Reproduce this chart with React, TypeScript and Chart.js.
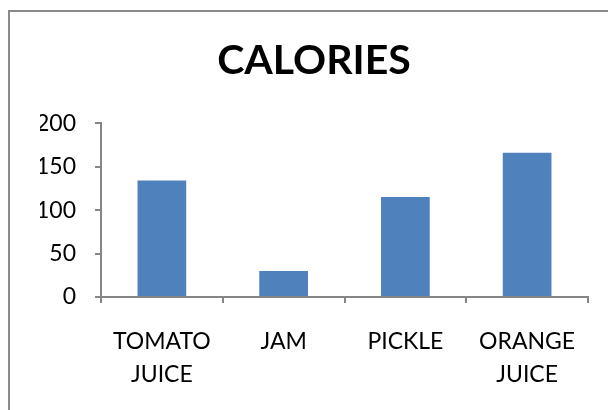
import React, { useEffect, useRef } from "react";
import { Chart, registerables } from "chart.js";

Chart.register(...registerables);

const categories: string[][] = [["TOMATO", "JUICE"], ["JAM"], ["PICKLE"], ["ORANGE", "JUICE"]];
const calories: number[] = [134, 30, 115, 166];
const titleText = "CALORIES";
const yMin = 0;
const yMax = 200;
const yStep = 50;

export default function App() {
  const ref = useRef<HTMLCanvasElement | null>(null);

  useEffect(() => {
    if (!ref.current) return;
    const axisColor = "#868686";
    const chart = new Chart(ref.current, {
      type: "bar",
      data: {
        labels: categories,
        datasets: [
          {
            label: titleText,
            data: calories,
            backgroundColor: "#4F81BD",
            borderWidth: 0,
            barPercentage: 0.4,
            categoryPercentage: 1,
          },
        ],
      },
      options: {
        animation: false,
        responsive: false,
        maintainAspectRatio: false,
        layout: { padding: { left: 40, right: 20, top: 0, bottom: -3 } },
        plugins: {
          legend: { display: false },
          tooltip: { enabled: false },
          title: {
            display: true,
            text: titleText,
            color: "#000",
            font: { family: "Lato", size: 41, weight: "bold", lineHeight: 1.2 },
            padding: { top: 36, bottom: 38 },
          },
        },
        scales: {
          x: {
            grid: {
              display: true,
              drawOnChartArea: false,
              drawTicks: true,
              tickLength: 6,
              color: axisColor,
              lineWidth: 2,
              offset: true,
            },
            border: { display: true, color: axisColor, width: 2 },
            ticks: {
              color: "#000",
              font: { family: "Lato", size: 23, lineHeight: 1.435 },
              padding: 22,
              maxRotation: 0,
              autoSkip: false,
            },
          },
          y: {
            min: yMin,
            max: yMax,
            afterFit: (scale: any) => {
              scale.width = 61;
            },
            grid: {
              display: true,
              drawOnChartArea: false,
              drawTicks: true,
              tickLength: 6,
              color: axisColor,
              lineWidth: 2,
            },
            border: { display: true, color: axisColor, width: 2 },
            ticks: {
              stepSize: yStep,
              color: "#000",
              font: { family: "Lato", size: 23 },
              padding: 19,
            },
          },
        },
      },
    });
    return () => chart.destroy();
  }, []);

  return (
    <div style={{ position: "fixed", left: 0, top: 0, width: 608, height: 410, background: "#fff", overflow: "hidden" }}>
      <div
        style={{
          position: "absolute",
          left: 8,
          top: 10,
          width: 700,
          height: 500,
          borderLeft: "2px solid #8a8a8a",
          borderTop: "2px solid #8a8a8a",
        }}
      />
      <canvas ref={ref} width={608} height={410} style={{ position: "absolute", left: 0, top: 0, width: 608, height: 410 }} />
    </div>
  );
}
